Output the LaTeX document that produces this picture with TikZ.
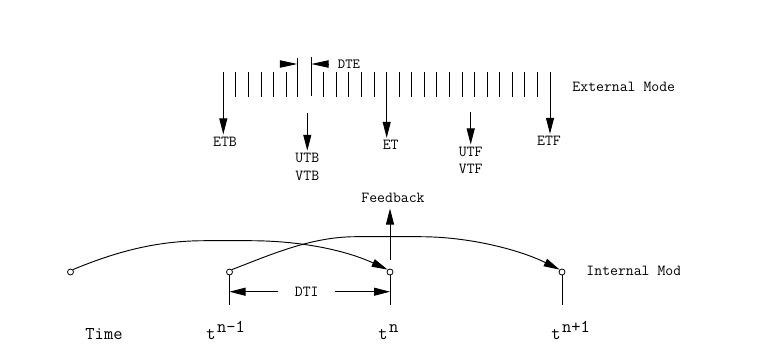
\documentclass[tikz,border=0pt]{standalone}
\usetikzlibrary{arrows.meta}
\begin{document}
\begin{tikzpicture}[x=0.75pt,y=-0.75pt,line width=0.7pt,
  lbl/.style={font=\ttfamily\fontsize{11.5}{14}\selectfont, inner sep=1.5pt},
  big/.style={font=\ttfamily\fontsize{13.5}{16}\selectfont, inner sep=0pt, anchor=base west},
  arr/.style={-{Triangle[length=12pt,width=6pt]}},
  dot/.style={circle, draw, minimum size=4.5pt, inner sep=0pt, line width=0.6pt}]
  \useasboundingbox (0,0) rectangle (761,362);
  \clip (0,0) rectangle (679.5,362);
  % external mode
  \foreach \k in {1,2,3,4,5,8,9,10,11,12,14,15,16,17,18,19,20,21,22,23,24,25}
    \draw ({223.3+12.565*\k},71.5) -- ++(0,25.5);
  \draw (297.3,57.5) -- (297.3,97);
  \draw (311.3,57) -- (311.3,95.5);
  \coordinate (dtel) at (297.3,64);
  \coordinate (dter) at (311.3,64);
  \coordinate (dtea) at (280,64);
  \coordinate (dteb) at (329,64);
  \draw[-{Triangle[length=13pt,width=5.5pt]}] (dtea) -- (dtel);
  \draw[-{Triangle[length=13pt,width=5.5pt]}] (dteb) -- (dter);
  \node[lbl, font=\ttfamily\fontsize{10.5}{12}\selectfont] (dte) at (349,64) {DTE};
  \node[lbl, anchor=west] (ext) at (570,87) {External Mode};

  \node[lbl] (etb) at (225,141.5) {ETB};
  \node[lbl] (et) at (390.7,145) {ET};
  \node[lbl] (etf) at (549,141) {ETF};
  \node[lbl] (utb) at (307.3,158) {UTB};
  \node[lbl] (vtb) at (307.3,176) {VTB};
  \node[lbl] (utf) at (470.7,151.7) {UTF};
  \node[lbl] (vtf) at (470.7,169.3) {VTF};
  \coordinate (etbtop) at (223.3,71.5);
  \coordinate (ettop) at (386.7,71.5);
  \coordinate (etftop) at (550,71.5);
  \coordinate (utbtop) at (307.3,112.7);
  \coordinate (utftop) at (470.7,111.7);
  \draw[arr] (etbtop) -- (etbtop |- etb.north);
  \draw[arr] (ettop) -- (ettop |- et.north);
  \draw[arr] (etftop) -- (etftop |- etf.north);
  \draw[arr] (utbtop) -- (utb.north);
  \draw[arr] (utftop) -- (utf.north);

  % internal mode
  \node[dot] (c0) at (70.5,272) {};
  \node[dot] (c1) at (229.5,272) {};
  \node[dot] (c2) at (390,272) {};
  \node[dot] (c3) at (562,272) {};
  \coordinate (b1) at (229.5,305);
  \coordinate (b2) at (390,305);
  \coordinate (b3) at (562,305);
  \draw (c1.south) -- (b1);
  \draw (c2.south) -- (b2);
  \draw (c3.south) -- (b3);
  \draw[arr] (c0.north east) .. controls (120,250) and (160,240.7) .. (205,240.7)
    -- (250,240.7) .. controls (300,240.7) and (345,250) .. (c2.north west);
  \draw[arr] (c1.north east) .. controls (270,255) and (310,237) .. (355,236.7)
    -- (420,236.7) .. controls (470,236.7) and (520,250) .. (c3.north west);

  \node[lbl, inner ysep=4pt] (fb) at (393,198) {Feedback};
  \coordinate (fbbot) at (390,260);
  \draw[arr] (fbbot) -- (fbbot |- fb.south);

  \node[lbl, inner xsep=12pt] (dti) at (306.7,291.7) {DTI};
  \draw[arr] (dti.west) -- (dti.west -| b1);
  \draw[arr] (dti.east) -- (dti.east -| b2);

  \node[lbl, anchor=west] (intm) at (584,271) {Internal Mode};
  \node[big, anchor=base] (time) at (104,339.5) {Time};
  \node[big] (tnm) at (206,339.5) {t\kern1pt\raisebox{5.5pt}{n-1}};
  \node[big] (tn) at (378,339.5) {t\kern1pt\raisebox{5.5pt}{n}};
  \node[big] (tnp) at (551,339.5) {t\kern1pt\raisebox{5.5pt}{n+1}};
\end{tikzpicture}
\end{document}
